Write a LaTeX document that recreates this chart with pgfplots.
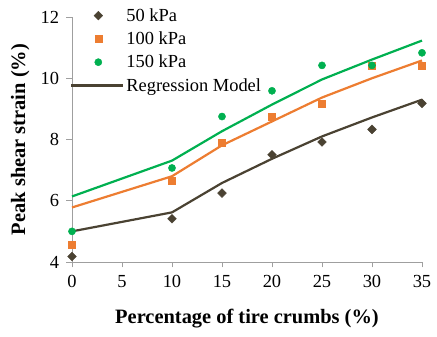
\documentclass[border=0pt]{standalone}
\usepackage{fontspec}
\setmainfont{Liberation Serif}
\usepackage{pgfplots}
\pgfplotsset{compat=1.18}
\definecolor{cdark}{HTML}{4A4232}
\definecolor{corange}{HTML}{ED7D31}
\definecolor{cgreen}{HTML}{00B050}
\pgfplotsset{reglegend/.style={legend image code/.code={\draw[#1] (-18.5bp,0) -- (33.5bp,0);}}}
\begin{document}
\begin{tikzpicture}[x=1bp,y=1bp]
\begin{axis}[
  scale only axis, width=350bp, height=245bp,
  xmin=0, xmax=35, ymin=4, ymax=12,
  axis x line=bottom, axis y line=left,
  axis line style={-, gray!75, line width=0.9bp},
  xtick={0,5,...,35}, ytick={4,6,8,10,12},
  tick style={gray!75, line width=0.9bp},
  tick align=outside, major tick length=5.5bp,
  /pgf/number format/assume math mode=true,
  tick label style={font=\fontsize{18.5}{18.5}\selectfont},
  yticklabel style={xshift=-4bp},
  xticklabel style={yshift=-4bp},
  xlabel={\textbf{Percentage of tire crumbs (\%)}},
  ylabel={\textbf{Peak shear strain (\%)}},
  label style={font=\fontsize{20.5}{21}\selectfont},
  xlabel style={at={(axis description cs:0.5,-0.251)}, anchor=base},
  ylabel style={at={(axis description cs:-0.148,0.5)}, anchor=center},
  clip=false,
  legend style={draw=none, fill=none, font=\fontsize{18.5}{18.5}\selectfont,
    inner sep=0bp, nodes={inner sep=2bp},
    at={(axis cs:-0.2,12.35)}, anchor=north west, row sep=5bp,
    /tikz/every even column/.append style={column sep=0bp}},
  legend cell align=left,
]
\addplot[only marks, mark=square*, mark options={rotate=45}, mark size=3.1bp, color=cdark] coordinates {
(0,4.18) (10,5.41) (15,6.25) (20,7.50) (25,7.92) (30,8.33) (35,9.18)};
\addlegendentry{50 kPa}
\addplot[only marks, mark=square*, mark size=3.5bp, color=corange] coordinates {
(0,4.58) (10,6.67) (15,7.91) (20,8.75) (25,9.17) (30,10.42) (35,10.42)};
\addlegendentry{100 kPa}
\addplot[only marks, mark=*, mark size=3.6bp, color=cgreen] coordinates {
(0,5.00) (10,7.07) (15,8.75) (20,9.59) (25,10.42) (30,10.42) (35,10.83)};
\addlegendentry{150 kPa}
\addplot[color=cdark, line width=2.2bp, reglegend] coordinates {
(0,5.00) (10,5.62) (15,6.58) (20,7.37) (25,8.10) (30,8.72) (35,9.30)};
\addlegendentry{Regression Model}
\addplot[color=corange, line width=2.2bp, forget plot] coordinates {
(0,5.78) (10,6.80) (15,7.81) (20,8.59) (25,9.37) (30,10.00) (35,10.58)};
\addplot[color=cgreen, line width=2.2bp, forget plot] coordinates {
(0,6.14) (10,7.31) (15,8.27) (20,9.14) (25,9.96) (30,10.61) (35,11.23)};
\end{axis}
\path[use as bounding box] (current axis.south west) ++(-72bp,-75bp) rectangle ([shift={(15bp,17bp)}]current axis.north east);
\end{tikzpicture}
\end{document}
